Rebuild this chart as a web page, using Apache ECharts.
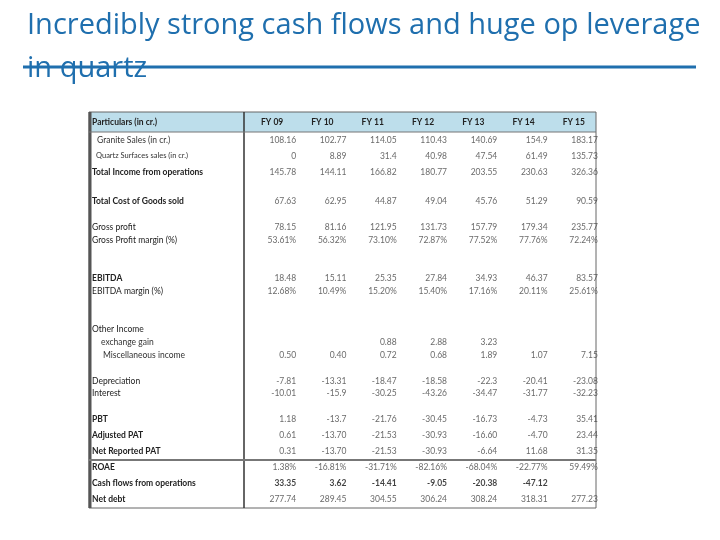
<!DOCTYPE html>
<html>
<head>
<meta charset="utf-8">
<script src="https://cdn.jsdelivr.net/npm/echarts@6/dist/echarts.min.js"></script>
<style>
html, body { margin: 0; padding: 0; background: #fff; }
#main { width: 720px; height: 540px; }
</style>
</head>
<body>
<div id="main"></div>
<script>
const years = ['FY 09', 'FY 10', 'FY 11', 'FY 12', 'FY 13', 'FY 14', 'FY 15'];

const granite = ['108.16', '102.77', '114.05', '110.43', '140.69', '154.9', '183.17'];
const quartz = ['0', '8.89', '31.4', '40.98', '47.54', '61.49', '135.73'];
const totalIncome = ['145.78', '144.11', '166.82', '180.77', '203.55', '230.63', '326.36'];
const cogs = ['67.63', '62.95', '44.87', '49.04', '45.76', '51.29', '90.59'];
const grossProfit = ['78.15', '81.16', '121.95', '131.73', '157.79', '179.34', '235.77'];
const gpMargin = ['53.61%', '56.32%', '73.10%', '72.87%', '77.52%', '77.76%', '72.24%'];
const ebitda = ['18.48', '15.11', '25.35', '27.84', '34.93', '46.37', '83.57'];
const ebitdaMargin = ['12.68%', '10.49%', '15.20%', '15.40%', '17.16%', '20.11%', '25.61%'];
const otherIncome = ['', '', '', '', '', '', ''];
const exchangeGain = ['', '', '0.88', '2.88', '3.23', '', ''];
const miscIncome = ['0.50', '0.40', '0.72', '0.68', '1.89', '1.07', '7.15'];
const depreciation = ['-7.81', '-13.31', '-18.47', '-18.58', '-22.3', '-20.41', '-23.08'];
const interest = ['-10.01', '-15.9', '-30.25', '-43.26', '-34.47', '-31.77', '-32.23'];
const pbt = ['1.18', '-13.7', '-21.76', '-30.45', '-16.73', '-4.73', '35.41'];
const adjustedPat = ['0.61', '-13.70', '-21.53', '-30.93', '-16.60', '-4.70', '23.44'];
const netPat = ['0.31', '-13.70', '-21.53', '-30.93', '-6.64', '11.68', '31.35'];
const roae = ['1.38%', '-16.81%', '-31.71%', '-82.16%', '-68.04%', '-22.77%', '59.49%'];
const cashFlow = ['33.35', '3.62', '-14.41', '-9.05', '-20.38', '-47.12', ''];
const netDebt = ['277.74', '289.45', '304.55', '306.24', '308.24', '318.31', '277.23'];

// table sections, null = empty spacer row
const sectionA = [
  ['Granite Sales (in cr.)', granite],
  ['Quartz Surfaces sales (in cr.)', quartz],
  ['Total Income from operations', totalIncome]
];
const sectionB = [
  ['Total Cost of Goods sold', cogs],
  null,
  ['Gross profit', grossProfit],
  ['Gross Profit margin (%)', gpMargin],
  null,
  null,
  ['EBITDA', ebitda],
  ['EBITDA margin (%)', ebitdaMargin],
  null,
  null,
  ['Other Income', otherIncome],
  ['exchange gain', exchangeGain],
  ['Miscellaneous income', miscIncome],
  null,
  ['Depreciation', depreciation],
  ['Interest', interest]
];
const sectionC = [
  ['PBT', pbt],
  ['Adjusted PAT', adjustedPat],
  ['Net Reported PAT', netPat],
  ['ROAE', roae],
  ['Cash flows from operations', cashFlow],
  ['Net debt', netDebt]
];

const font = 'Lato, "Noto Sans", sans-serif';
const boldRows = ['Total Income from operations', 'Total Cost of Goods sold', 'EBITDA', 'PBT',
  'Adjusted PAT', 'Net Reported PAT', 'ROAE', 'Cash flows from operations', 'Net debt'];

function rowLabel(name) {
  if (name.indexOf('blank') === 0) return '';
  if (name === 'Granite Sales (in cr.)') return '{g|' + name + '}';
  if (name === 'Quartz Surfaces sales (in cr.)') return '{q|' + name + '}';
  if (name === 'exchange gain') return '{e|' + name + '}';
  if (name === 'Miscellaneous income') return '{m|' + name + '}';
  if (boldRows.includes(name)) return '{b|' + name + '}';
  return '{n|' + name + '}';
}

const rich = {
  n: { fontFamily: font, fontSize: 8.5, color: '#222' },
  b: { fontFamily: font, fontSize: 8.5, fontWeight: 'bold', color: '#222' },
  g: { fontFamily: font, fontSize: 8.5, color: '#333', padding: [0, 0, 0, 5] },
  q: { fontFamily: font, fontSize: 7.5, color: '#333', padding: [0, 0, 0, 4] },
  e: { fontFamily: font, fontSize: 8.5, color: '#333', padding: [0, 0, 0, 9] },
  m: { fontFamily: font, fontSize: 8.5, color: '#333', padding: [0, 0, 0, 11] }
};

function cells(section) {
  const out = [];
  section.forEach((row, i) => {
    if (!row) return;
    row[1].forEach((v, j) => {
      if (v === '') return;
      const item = { value: [j, i], text: v };
      if (row[0] === 'Cash flows from operations') item.label = { fontWeight: 'bold', color: '#111' };
      out.push(item);
    });
  });
  return out;
}

const sections = [sectionA, sectionB, sectionC];
const grids = [
  { left: 244, right: 124, top: 132, height: 48 },
  { left: 244, right: 124, top: 195, height: 205 },
  { left: 244, right: 124, top: 411, height: 96 }
];

const chart = echarts.init(document.getElementById('main'));

const option = {
  animation: false,
  title: {
    text: 'Incredibly strong cash flows and huge op leverage\nin quartz',
    left: 22,
    top: -1,
    textStyle: { fontFamily: '"Open Sans", sans-serif', fontSize: 29, fontWeight: 'normal', color: '#1f6fae', lineHeight: 43 }
  },
  grid: grids,
  xAxis: sections.map((s, k) => ({
    type: 'category',
    gridIndex: k,
    data: years,
    show: k === 0,
    position: 'top',
    axisLine: { show: false },
    axisTick: { show: false },
    splitLine: { show: false },
    axisLabel: { interval: 0, margin: 5, fontFamily: font, fontSize: 8.5, fontWeight: 'bold', color: '#222', padding: [0, 0, 0, 6] }
  })),
  yAxis: sections.map((s, k) => ({
    type: 'category',
    gridIndex: k,
    inverse: true,
    data: s.map((row, i) => row ? row[0] : 'blank' + i),
    axisLine: { show: false },
    axisTick: { show: false },
    splitLine: { show: false },
    axisLabel: { interval: 0, align: 'left', margin: 152, formatter: rowLabel, rich: rich }
  })),
  series: sections.map((s, k) => ({
    type: 'scatter',
    xAxisIndex: k,
    yAxisIndex: k,
    symbolSize: 1,
    itemStyle: { color: 'rgba(0,0,0,0)' },
    data: cells(s),
    label: {
      show: true,
      position: 'inside',
      align: 'right',
      offset: [27, 0],
      fontFamily: font,
      fontSize: 8.5,
      color: '#444',
      formatter: p => p.data.text
    }
  })),
  graphic: [
    { type: 'line', shape: { x1: 23, y1: 67, x2: 696, y2: 67 }, style: { stroke: '#1f6fae', lineWidth: 3 } },
    { type: 'rect', z: -1, shape: { x: 89, y: 112, width: 507, height: 20 }, style: { fill: '#bddeeb' } },
    { type: 'rect', shape: { x: 89, y: 112, width: 507, height: 396 }, style: { fill: null, stroke: '#666', lineWidth: 1 } },
    { type: 'line', shape: { x1: 90, y1: 112, x2: 90, y2: 508 }, style: { stroke: '#555', lineWidth: 3 } },
    { type: 'line', shape: { x1: 244, y1: 112, x2: 244, y2: 508 }, style: { stroke: '#333', lineWidth: 1.5 } },
    { type: 'line', shape: { x1: 89, y1: 132, x2: 596, y2: 132 }, style: { stroke: '#777', lineWidth: 1 } },
    { type: 'line', shape: { x1: 89, y1: 460, x2: 596, y2: 460 }, style: { stroke: '#777', lineWidth: 2 } },
    { type: 'text', x: 92, y: 122, style: { text: 'Particulars (in cr.)', fontFamily: font, fontSize: 8.5, fontWeight: 'bold', fill: '#222', verticalAlign: 'middle' } }
  ]
};

chart.setOption(option);
</script>
</body>
</html>
